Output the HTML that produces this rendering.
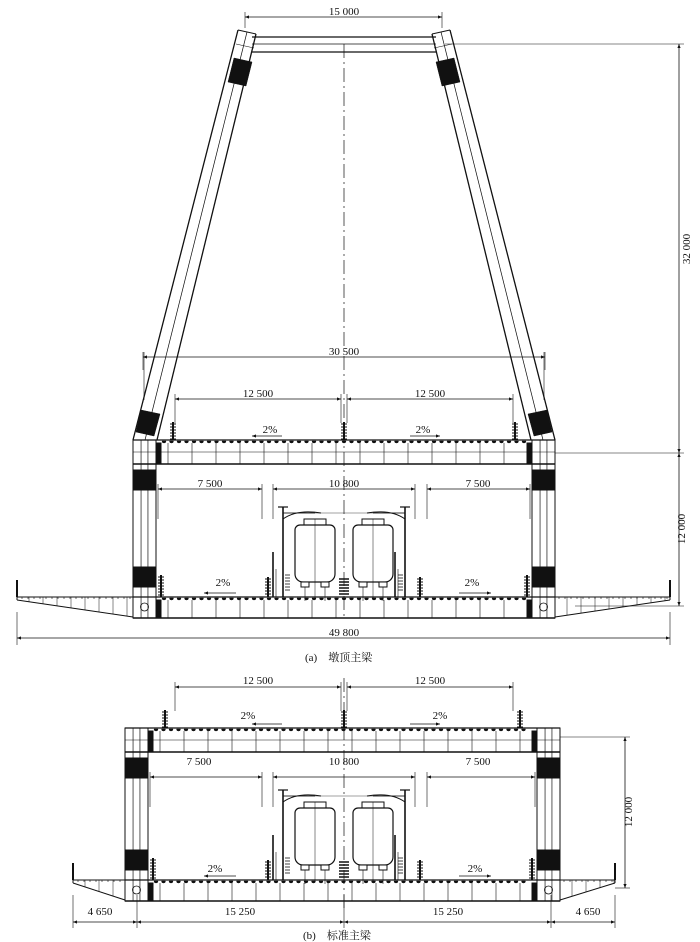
<!DOCTYPE html>
<html><head><meta charset="utf-8">
<style>
html,body{margin:0;padding:0;background:#fff;}
svg{display:block;}
text{font-family:"Liberation Serif","Noto Serif CJK SC",serif;font-size:11px;fill:#111;stroke:none;font-weight:normal;}
</style></head>
<body>
<svg id="s" width="700" height="942" viewBox="0 0 700 942" xmlns="http://www.w3.org/2000/svg" fill="none" stroke-width="1">
<defs>
<marker id="ar" viewBox="0 0 10 10" refX="10" refY="5" markerWidth="8" markerHeight="5" orient="auto-start-reverse"><path d="M0,1 L10,5 L0,9 z" fill="#111" stroke="none"/></marker>
</defs>
<g id="geo" stroke="#111"></g>
<g>
<text x="344" y="15" text-anchor="middle">15 000</text>
<text x="344" y="355" text-anchor="middle">30 500</text>
<text x="258" y="397" text-anchor="middle">12 500</text>
<text x="430" y="397" text-anchor="middle">12 500</text>
<text x="270" y="433" text-anchor="middle">2%</text>
<text x="423" y="433" text-anchor="middle">2%</text>
<text x="210" y="487" text-anchor="middle">7 500</text>
<text x="344" y="487" text-anchor="middle">10 800</text>
<text x="478" y="487" text-anchor="middle">7 500</text>
<text x="223" y="586" text-anchor="middle">2%</text>
<text x="472" y="586" text-anchor="middle">2%</text>
<text x="344" y="636" text-anchor="middle">49 800</text>
<text x="690" y="249" text-anchor="middle" transform="rotate(-90 690 249)">32 000</text>
<text x="685" y="529" text-anchor="middle" transform="rotate(-90 685 529)">12 000</text>
<text x="305" y="661">(a)　墩顶主梁</text>
<text x="258" y="684" text-anchor="middle">12 500</text>
<text x="430" y="684" text-anchor="middle">12 500</text>
<text x="248" y="719" text-anchor="middle">2%</text>
<text x="440" y="719" text-anchor="middle">2%</text>
<text x="199" y="765" text-anchor="middle">7 500</text>
<text x="344" y="765" text-anchor="middle">10 800</text>
<text x="478" y="765" text-anchor="middle">7 500</text>
<text x="215" y="872" text-anchor="middle">2%</text>
<text x="475" y="872" text-anchor="middle">2%</text>
<text x="100" y="915" text-anchor="middle">4 650</text>
<text x="240" y="915" text-anchor="middle">15 250</text>
<text x="448" y="915" text-anchor="middle">15 250</text>
<text x="588" y="915" text-anchor="middle">4 650</text>
<text x="632" y="812" text-anchor="middle" transform="rotate(-90 632 812)">12 000</text>
<text x="303" y="939">(b)　标准主梁</text>
</g>
</svg>
<script>
var g=document.getElementById('geo'),NS='http://www.w3.org/2000/svg';
function el(t,a){var e=document.createElementNS(NS,t);for(var k in a)e.setAttribute(k,a[k]);g.appendChild(e);return e;}
function L(x1,y1,x2,y2,w,extra){var a={x1:x1,y1:y1,x2:x2,y2:y2};if(w)a['stroke-width']=w;if(extra)for(var k in extra)a[k]=extra[k];return el('line',a);}
function R(x,y,w,h,f){return el('rect',{x:x,y:y,width:w,height:h,fill:f||'none'});}
function P(d,f,sw){return el('path',{d:d,fill:f||'none','stroke-width':sw||1});}
function dimH(x1,x2,y,e1,e2){L(x1,y,x2,y,0.8,{'marker-start':'url(#ar)','marker-end':'url(#ar)'});if(e1!==undefined){L(x1,y-5,x1,e1,0.6);L(x2,y-5,x2,e2===undefined?e1:e2,0.6);}}
function dimV(x,y1,y2){L(x,y1,x,y2,0.8,{'marker-start':'url(#ar)','marker-end':'url(#ar)'});}
function railing(x,yb,h){L(x,yb,x,yb-h,2);for(var y=yb-h+2;y<yb;y+=3)L(x-3,y,x+3,y,1);}
function beadRow(x1,x2,y){for(var x=x1;x<x2;x+=7.5){P('M'+(x-2)+','+y+' a2,2 0 0 0 4,0 z','#111',0.5);}}
function stiff(x1,x2,y1,y2,step){for(var x=x1;x<x2;x+=step)L(x,y1,x,y2,0.6);}
function deck(xl,xr,yt,yb,cw){
  L(xl,yt,xr,yt,1.2);L(xl,yb,xr,yb,1.4);
  beadRow(xl+cw+8,xr-cw-6,yt+1);
  stiff(xl+cw+12,xr-cw-5,yt+3,yb,24);
  R(xl+cw+1,yt+3,4,yb-yt-3,'#111');R(xr-cw-5,yt+3,4,yb-yt-3,'#111');
}
function column(x,y1,y2,w,blk){
  R(x,y1,w,y2-y1);L(x+w*0.35,y1,x+w*0.35,y2,0.7);L(x+w*0.65,y1,x+w*0.65,y2,0.7);
  blk.forEach(function(b){R(x,b,w,20,'#111');});
}
function vehicle(cx,yb){
  P('M'+(cx-15)+','+(yb-66)+' h30 a5,5 0 0 1 5,5 v44 a8,8 0 0 1 -8,8 h-24 a8,8 0 0 1 -8,-8 v-44 a5,5 0 0 1 5,-5 z','none',1.2);
  P('M'+(cx-11)+','+(yb-66)+' v-6 h22 v6','none',1);
  L(cx,yb-72,cx,yb+8,0.5);
  R(cx-14,yb-9,8,5,'#fff');R(cx+6,yb-9,8,5,'#fff');
  L(cx-10,yb-4,cx-10,yb+10,0.6);L(cx+10,yb-4,cx+10,yb+10,0.6);
}
function pole(x,yb,dir){
  L(x,yb,x,yb-90,1.6);L(x-5,yb-90,x+5,yb-90,1.2);L(x,yb-84,x+dir*32,yb-84,0.8);
  P('M'+x+','+(yb-78)+' q'+dir*14+',-10 '+dir*38+',-6','none',1);
  L(x-10,yb,x-10,yb-45,1.6);L(x-7,yb,x-7,yb-28,0.6);
  for(var y=yb-22;y<yb-4;y+=3)L(x+dir*2,y,x+dir*7,y,0.8);
}
function level(yt,yb,xl,xr,cw,cant){
  var C=344;
  deck(xl,xr,yt,yt+24,cw);
  deck(xl,xr,yb,yb+21,cw);
  column(xl,yt,yb+21,cw,[yt+30,yb-30]);
  column(xr-cw,yt,yb+21,cw,[yt+30,yb-30]);
  L(xl,yt+12,xr,yt+12,0.5);
  el('circle',{cx:xl+cw/2,cy:yb+10,r:4,'stroke-width':0.8});el('circle',{cx:xr-cw/2,cy:yb+10,r:4,'stroke-width':0.8});
  L(cant[0],yb,xl,yb,1);L(cant[0],yb+3,xl,yb+20,1);L(cant[0],yb,cant[0],yb+3,1);
  L(xr,yb,cant[1],yb,1);L(cant[1],yb+3,xr,yb+20,1);L(cant[1],yb,cant[1],yb+3,1);
  for(var x=cant[0]+5;x<xl;x+=6)L(x,yb,x,yb+2,0.6);for(var x=xr+4;x<cant[1];x+=6)L(x,yb,x,yb+2,0.6);
  for(var x=cant[0]+12;x<xl;x+=14)L(x,yb,x,yb+3+(x-cant[0])/(xl-cant[0])*17,0.5);
  for(var x=xr+12;x<cant[1];x+=14)L(x,yb,x,yb+3+(cant[1]-x)/(cant[1]-xr)*17,0.5);
  L(cant[0],yb,cant[0],yb-17,2);L(cant[1],yb,cant[1],yb-17,2);
  railing(xl+cw+17,yt,18);railing(C,yt,18);railing(xr-cw-17,yt,18);
  railing(xl+cw+5,yb,22);railing(xr-cw-5,yb,22);railing(268,yb,20);railing(420,yb,20);
  for(var y=yb-18;y<yb;y+=3)L(C-5,y,C+5,y,1.5);
  vehicle(315,yb-6);vehicle(373,yb-6);
  pole(283,yb,1);pole(405,yb,-1);
  L(283,yb-84,405,yb-84,0.4);
  L(C-62,yt-4,C-92,yt-4,0.8,{'marker-end':'url(#ar)'});L(C+66,yt-4,C+96,yt-4,0.8,{'marker-end':'url(#ar)'});
  L(C-108,yb-4,C-140,yb-4,0.8,{'marker-end':'url(#ar)'});L(C+115,yb-4,C+147,yb-4,0.8,{'marker-end':'url(#ar)'});
  var dy=yt+49;
  dimH(xl+cw+2,262,dy,dy+30);dimH(273,415,dy,dy+30);dimH(427,xr-cw-2,dy,dy+30);
  var ty=yt-41;
  dimH(175,341,ty,ty+24);dimH(347,513,ty,ty+24);
}
L(344,44,344,620,0.7,{'stroke-dasharray':'14,4,2,4'});
L(252,37,436,37,1.3);L(252,44,436,44,0.7);L(252,52,436,52,1.3);
P('M238,30 L133,440','none',1.3);P('M256,34 L157,440','none',1.3);P('M247,32 L145,440','none',0.7);
P('M450,30 L555,440','none',1.3);P('M432,34 L531,440','none',1.3);P('M441,32 L543,440','none',0.7);
P('M238,30 L256,34','none',1);P('M450,30 L432,34','none',1);
P('M234,58 L252,62 L246,86 L228,82 z','#111',0.5);P('M454,58 L436,62 L442,86 L460,82 z','#111',0.5);
P('M141,410 L160,414 L154,436 L136,432 z','#111',0.5);P('M547,410 L528,414 L534,436 L552,432 z','#111',0.5);
L(236,44,254,48,0.6);L(452,44,434,48,0.6);
level(440,597,133,555,23,[17,670]);
dimH(245,442,17,28);
dimH(143,545,357,370,370);
L(144,352,144,400,0.6);L(544,352,544,400,0.6);
L(445,44,684,44,0.6);L(555,453,684,453,0.6);L(575,606,684,606,0.6);
dimV(679,44,453);dimV(679,453,606);
dimH(17,670,638);L(17,612,17,645,0.6);L(670,612,670,645,0.6);
L(344,678,344,910,0.7,{'stroke-dasharray':'14,4,2,4'});
level(728,880,125,560,23,[73,615]);
L(560,737,630,737,0.6);L(615,888,630,888,0.6);dimV(625,737,888);
dimH(73,137,922);dimH(137,344,922);dimH(344,551,922);dimH(551,615,922);
[73,137,344,551,615].forEach(function(x){L(x,895,x,928,0.6);});
</script>
</body></html>
